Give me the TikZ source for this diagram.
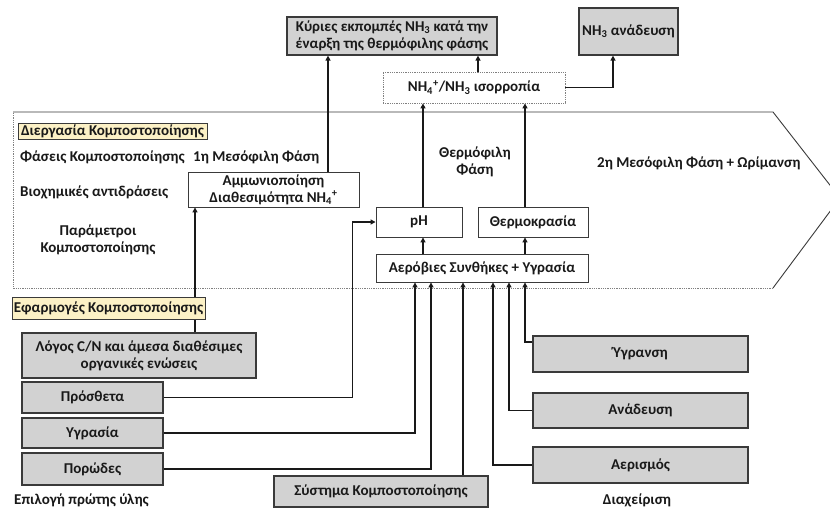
\documentclass[tikz,border=0pt]{standalone}
\usepackage{fontspec}
\setmainfont{Carlito}
\usetikzlibrary{arrows.meta,calc}
\definecolor{boxgray}{HTML}{D2D2D2}
\definecolor{labyel}{HTML}{FCF1C6}
\definecolor{edge}{HTML}{3A3A3A}
\newcommand{\nhfour}{NH\textsubscript{4}\textsuperscript{+}}
\newcommand{\nhthree}{NH\textsubscript{3}}
\begin{document}
\begin{tikzpicture}[x=1pt,y=-1pt,
  txt/.style={font=\fontsize{15}{17}\selectfont\bfseries, text=black!90, inner sep=0pt},
  gbox/.style={txt, draw=edge, line width=1.2pt, fill=boxgray, align=center},
  wbox/.style={txt, draw=edge, line width=0.9pt, fill=white, align=center},
  dbox/.style={txt, draw=gray, line width=0.8pt, densely dotted, fill=white, align=center},
  ybox/.style={txt, draw=edge, line width=0.9pt, fill=labyel},
  arr/.style={line width=1.5pt, draw=black!90, -{Triangle[length=5pt,width=5pt]}},
  con/.style={line width=1.5pt, draw=black!90}]
\useasboundingbox (0,0) rectangle (830,509);
\begin{scope}
\clip (0,0) rectangle (830,509);
% process arrow
\fill[white] (13,112) -- (773,112) -- (840,198) -- (773,288) -- (13,288) -- cycle;
\draw[line width=0.9pt, edge] (13,112) -- (773,112) -- (840,198) -- (773,288);
\draw[line width=0.8pt, gray, densely dotted] (773,288) -- (13,288) -- (13,112);
\end{scope}

% top boxes
\node[gbox, minimum width=210, minimum height=38] (emis) at (392,36) {Κύριες εκπομπές \nhthree{} κατά την\\έναρξη της θερμόφιλης φάσης};
\node[gbox, minimum width=99, minimum height=47] (diff) at (628.5,31.5) {\nhthree{} ανάδευση};
\node[dbox, minimum width=182, minimum height=31] (eq) at (474,87.5) {\nhfour/\nhthree{} ισορροπία};

% inside process
\node[ybox, minimum width=189, minimum height=16] (proc) at (112.5,131) {Διεργασία Κομποστοποίησης};
\node[txt, anchor=west] (phases) at (20,157) {Φάσεις Κομποστοποίησης};
\node[txt, anchor=west] (meso1) at (193,157) {1η Μεσόφιλη Φάση};
\node[txt, anchor=west] (bio) at (20,192) {Βιοχημικές αντιδράσεις};
\node[txt, align=center] (param) at (98,240) {Παράμετροι\\Κομποστοποίησης};
\node[txt, align=center] (thermo) at (475,162) {Θερμόφιλη\\Φάση};
\node[txt, anchor=west] (meso2) at (597,163) {2η Μεσόφιλη Φάση + Ωρίμανση};
\node[wbox, minimum width=171, minimum height=35] (amm) at (273.5,189.5) {Αμμωνιοποίηση\\Διαθεσιμότητα \nhfour};
\node[wbox, minimum width=86, minimum height=30] (ph) at (419,222) {pH};
\node[wbox, minimum width=110, minimum height=30] (temp) at (533,222) {Θερμοκρασία};
\node[wbox, minimum width=212, minimum height=28] (aer) at (482,268) {Αερόβιες Συνθήκες + Υγρασία};

% lower boxes
\node[gbox, minimum width=234, minimum height=45] (cn) at (139,355.5) {Λόγος C/N και άμεσα διαθέσιμες\\οργανικές ενώσεις};
\node[gbox, minimum width=141, minimum height=31] (add) at (92.5,397.5) {Πρόσθετα};
\node[gbox, minimum width=141, minimum height=30] (moist) at (92.5,433) {Υγρασία};
\node[gbox, minimum width=141, minimum height=32] (por) at (92.5,469) {Πορώδες};
\node[txt, anchor=west] (raw) at (14,500) {Επιλογή πρώτης ύλης};
\node[gbox, minimum width=214, minimum height=31] (sys) at (381,491.5) {Σύστημα Κομποστοποίησης};
\node[gbox, minimum width=215, minimum height=36] (wet) at (640.5,354) {Ύγρανση};
\node[gbox, minimum width=215, minimum height=35] (mix) at (640.5,410.5) {Ανάδευση};
\node[gbox, minimum width=215, minimum height=36] (aerat) at (640.5,465) {Αερισμός};
\node[txt] (manage) at (637,500) {Διαχείριση};

% connectors
\draw[arr] ([xshift=4]eq.north) -- ([xshift=4]eq.north |- emis.south);
\draw[arr] (eq.east) -| ([xshift=-15.5]diff.south);
\draw[arr] ([xshift=54.5]amm.north) -- ([xshift=54.5]amm.north |- emis.south);
\draw[arr] ([xshift=4]ph.north) -- ([xshift=4]ph.north |- eq.south);
\draw[arr] ([xshift=-8]temp.north) -- ([xshift=-8]temp.north |- eq.south);
\draw[arr] ([xshift=4]ph.south |- aer.north) -- ([xshift=4]ph.south);
\draw[arr] ([xshift=-8]temp.south |- aer.north) -- ([xshift=-8]temp.south);
\draw[arr] ([xshift=56]cn.north) -- ([xshift=56]cn.north |- amm.south);
\draw[arr] (add.east) -- ++(189,0) |- (ph.west);
\draw[arr] (moist.east) -| ([xshift=-67]aer.south);
\draw[arr] (por.east) -| ([xshift=-51]aer.south);
\draw[arr] ([xshift=82]sys.north) -- ([xshift=82]sys.north |- aer.south);
\draw[arr] (aerat.west) -| ([xshift=11]aer.south);
\draw[arr] (mix.west) -| ([xshift=27]aer.south);
\draw[arr] ([yshift=12]wet.west) -| ([xshift=43]aer.south);

% label drawn over the connector
\node[ybox, minimum width=193, minimum height=22] (appl) at (108.5,308) {Εφαρμογές Κομποστοποίησης};
\end{tikzpicture}
\end{document}
